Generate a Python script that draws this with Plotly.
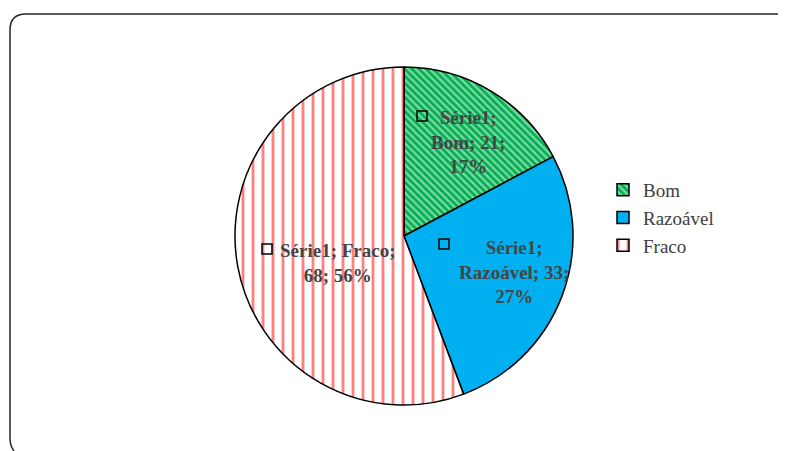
import plotly.graph_objects as go

categories = ["Bom", "Razoável", "Fraco"]
values = [21, 33, 68]
series_name = "Série1"
label_lines = ["{s};<br>{c}; {v};<br>{p}%", "{s};<br>{c}; {v};<br>{p}%", "{s}; {c};<br>{v}; {p}%"]

# page body has an 8px margin; the figure starts at (8, 8) in the window
OFF = 8
W, H = 786 - OFF, 451 - OFF
total = sum(values)
texts = [tpl.format(s=series_name, c=c, v=v, p=round(100 * v / total))
         for tpl, c, v in zip(label_lines, categories, values)]


def px(x):
    return (x - OFF) / W


def py(y):
    return 1 - (y - OFF) / H


cx, cy, D = 404, 236, 338

fig = go.Figure(go.Pie(
    labels=categories, values=values, sort=False, direction="clockwise", rotation=0,
    textinfo="none", hoverinfo="label+value+percent",
    marker=dict(
        colors=["#00B050", "#00B0F0", "#FFFFFF"],
        line=dict(color="#000000", width=1.5),
        pattern=dict(
            shape=["\\", "", "|"],
            fgcolor=["#FFFFFF", "#00B0F0", "#FF0000"],
            bgcolor=["#00B050", "#00B0F0", "#FFFFFF"],
            size=[5, 8, 10],
            solidity=[0.45, 0.3, 0.28],
            fillmode="overlay",
        ),
    ),
    domain=dict(x=[px(cx - D / 2), px(cx + D / 2)], y=[py(cy + D / 2), py(cy - D / 2)]),
))

# label annotations (positions near the reference placement)
label_pos = [(468, 142), (514, 272), (338, 263)]
square_pos = [(422, 116), (444, 244), (267, 249)]
for t, (x, y) in zip(texts, label_pos):
    fig.add_annotation(x=px(x), y=py(y), xref="paper", yref="paper", text="<b>" + t + "</b>",
                       xanchor="center", yanchor="middle",
                       showarrow=False, font=dict(family="Liberation Serif", size=19, color="#454545"),
                       align="center")
for (x, y) in square_pos:
    fig.add_shape(type="rect", xref="paper", yref="paper",
                  x0=px(x - 5), x1=px(x + 5), y0=py(y + 5), y1=py(y - 5),
                  line=dict(color="#000000", width=1.5), fillcolor="rgba(0,0,0,0)")

# rounded border (top-left corner, start of bottom-left corner)
bx, by, r = 10, 14, 16
fig.add_shape(type="path", xref="paper", yref="paper",
              path=(f"M {px(bx + 4)},{py(451)} Q {px(bx)},{py(446)} {px(bx)},{py(438)} "
                    f"L {px(bx)},{py(by + r)} Q {px(bx)},{py(by)} {px(bx + r)},{py(by)} L 1,{py(by)}"),
              line=dict(color="#262626", width=1.5))

fig.update_layout(
    width=W, height=H, margin=dict(l=0, r=0, t=0, b=0),
    paper_bgcolor="#FFFFFF", plot_bgcolor="#FFFFFF",
    showlegend=True,
    legend=dict(x=px(603), y=py(171), xanchor="left", yanchor="top",
                font=dict(family="Liberation Serif", size=19, color="#404040"),
                itemwidth=30),
)

fig.write_html("out.html")
